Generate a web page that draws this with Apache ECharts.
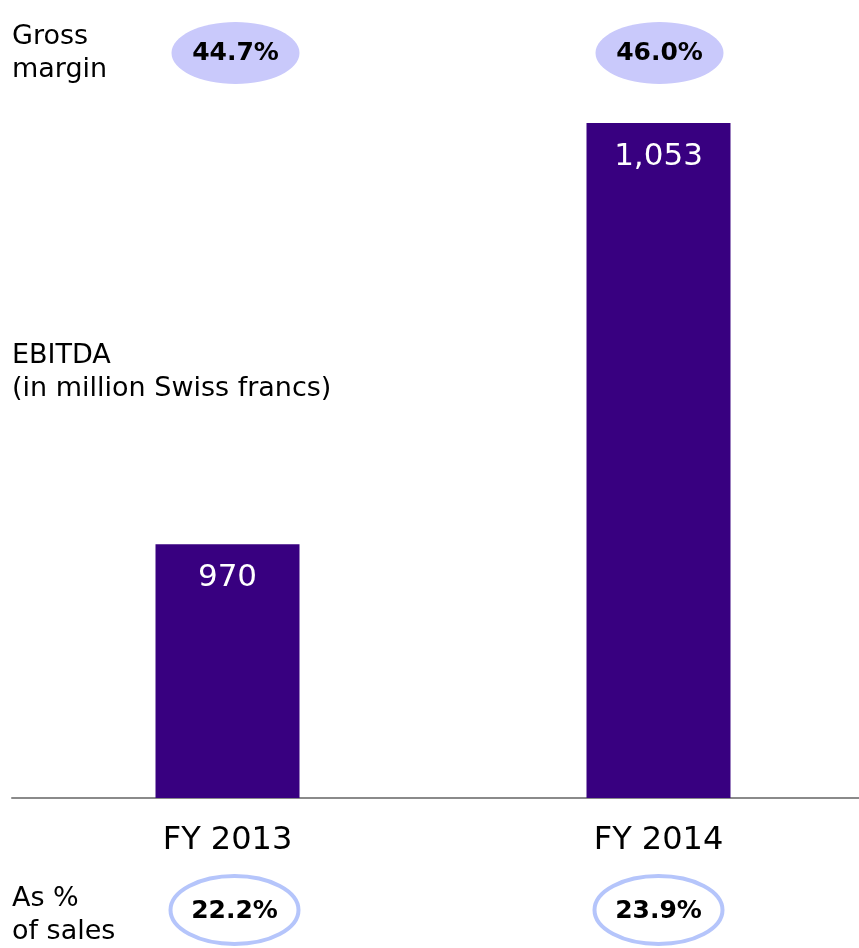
<!DOCTYPE html>
<html>
<head>
<meta charset="utf-8">
<script src="https://cdn.jsdelivr.net/npm/echarts@6/dist/echarts.min.js"></script>
<style>
  html, body { margin: 0; padding: 0; background: #fff; overflow: hidden; }
  /* a bit wider than the window: the axis runs off the right edge */
  #main { width: 875px; height: 948px; }
</style>
</head>
<body>
<div id="main"></div>
<script>
// data
var categories = ['FY 2013', 'FY 2014'];
var ebitda = [970, 1053];
var grossMargin = ['44.7%', '46.0%'];
var pctOfSales = ['22.2%', '23.9%'];

var FONT = 'Verdana, "DejaVu Sans", sans-serif';

var myChart = echarts.init(document.getElementById('main'));

myChart.setOption({
  animation: false,
  grid: { left: 12, right: 1, top: 123, bottom: 150 },
  xAxis: {
    type: 'category',
    data: categories,
    axisLine: { lineStyle: { color: '#8a8a8a', width: 2 } },
    axisTick: { show: false },
    axisLabel: { color: '#000', fontSize: 32, fontFamily: FONT, margin: 27 }
  },
  yAxis: {
    type: 'value',
    min: 920,
    max: 1053,
    show: false
  },
  series: [{
    type: 'bar',
    data: ebitda,
    barWidth: 144,
    itemStyle: { color: '#380080' },
    label: {
      show: true,
      position: 'insideTop',
      distance: 18,
      color: '#fff',
      fontSize: 31,
      fontFamily: FONT,
      formatter: function (p) { return p.value.toLocaleString('en-US'); }
    }
  }]
});

// side texts + ellipses, x taken from the category axis
var sideText = { fontSize: 27, lineHeight: 33, fontFamily: FONT, fill: '#000' };
var graphics = [
  { type: 'text', left: 12, top: 20, style: Object.assign({ text: 'Gross\nmargin' }, sideText) },
  { type: 'text', left: 12, top: 339, style: Object.assign({ text: 'EBITDA\n(in million Swiss francs)' }, sideText) },
  { type: 'text', left: 12, top: 882, style: Object.assign({ text: 'As %\nof sales' }, sideText) }
];

var topShift = [8, 1];
var botShift = [7, 0];
categories.forEach(function (c, i) {
  var cx = myChart.convertToPixel({ xAxisIndex: 0 }, c);
  var x1 = cx + topShift[i], x2 = cx + botShift[i];
  graphics.push({
    type: 'ellipse',
    shape: { cx: x1, cy: 53, rx: 64, ry: 31 },
    style: { fill: '#c9c9fb' }
  });
  graphics.push({
    type: 'text',
    x: x1, y: 53,
    style: { text: grossMargin[i], fontSize: 25, fontWeight: 'bold', fontFamily: FONT, fill: '#000', align: 'center', verticalAlign: 'middle' }
  });
  graphics.push({
    type: 'ellipse',
    shape: { cx: x2, cy: 910, rx: 64, ry: 34 },
    style: { fill: '#fff', stroke: '#b5c5fb', lineWidth: 4 }
  });
  graphics.push({
    type: 'text',
    x: x2, y: 911,
    style: { text: pctOfSales[i], fontSize: 25, fontWeight: 'bold', fontFamily: FONT, fill: '#000', align: 'center', verticalAlign: 'middle' }
  });
});

myChart.setOption({ graphic: graphics });
</script>
</body>
</html>
